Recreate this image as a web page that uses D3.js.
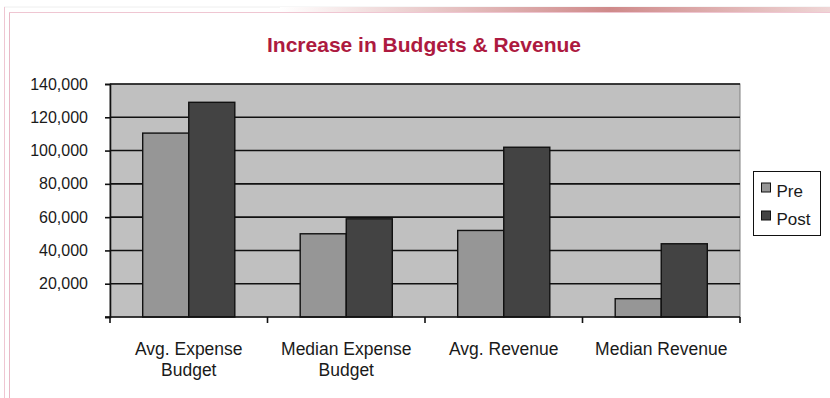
<!DOCTYPE html>
<html lang="en">
<head>
  <meta charset="UTF-8">
  <title>Increase in Budgets & Revenue</title>
  <style>
    body { margin: 0; background: #fff; }
    svg { display: block; font-family: "Liberation Sans", Arial, sans-serif; }
    .tick text { font-size: 16px; fill: #1a1a1a; }
  </style>
</head>
<body>
  <svg id="chart" width="830" height="398"></svg>
  <script src="https://cdnjs.cloudflare.com/ajax/libs/d3/7.8.5/d3.min.js"></script>
  <script>
    const categories = [['Avg. Expense', 'Budget'], ['Median Expense', 'Budget'], ['Avg. Revenue'], ['Median Revenue']]
    const seriesNames = ['Pre', 'Post']
    const preValues = [110500, 50000, 52000, 11000]
    const postValues = [129000, 59000, 102000, 44000]
    const yTicks = [0, 20000, 40000, 60000, 80000, 100000, 120000, 140000]
    const colors = ['#969696', '#434343']

    const svg = d3.select('#chart')

    // slide frame decoration
    const grad = svg.append('defs').append('linearGradient').attr('id', 'topbar')
    grad.append('stop').attr('offset', '0%').attr('stop-color', '#ffffff')
    grad.append('stop').attr('offset', '60%').attr('stop-color', '#cf8a8a')
    grad.append('stop').attr('offset', '100%').attr('stop-color', '#efd6d6')
    svg.append('line').attr('x1', 4).attr('x2', 830).attr('y1', 7).attr('y2', 7)
      .attr('stroke', '#eeeeee').attr('stroke-width', 1)
    svg.append('rect').attr('x', 280).attr('y', 7).attr('width', 550).attr('height', 5)
      .attr('fill', 'url(#topbar)')
    svg.append('line').attr('x1', 4.5).attr('x2', 4.5).attr('y1', 7).attr('y2', 398)
      .attr('stroke', '#efc6d2').attr('stroke-width', 1)
    svg.append('line').attr('x1', 9.5).attr('x2', 9.5).attr('y1', 12).attr('y2', 398)
      .attr('stroke', '#e8b8c6').attr('stroke-width', 1)
    svg.append('line').attr('x1', 9).attr('x2', 830).attr('y1', 12.5).attr('y2', 12.5)
      .attr('stroke', '#efc6d2').attr('stroke-width', 1)

    svg.append('text')
      .attr('x', 424).attr('y', 52)
      .attr('text-anchor', 'middle')
      .attr('font-size', 21).attr('font-weight', 'bold')
      .attr('fill', '#ad1a40')
      .text('Increase in Budgets & Revenue')

    const plotL = 110, plotR = 740, plotT = 84, plotB = 317

    const x = d3.scaleBand().domain(d3.range(categories.length)).range([plotL, plotR])
    const xs = d3.scaleBand().domain(seriesNames).range([0, x.bandwidth()]).paddingOuter(0.71)
    const y = d3.scaleLinear().domain([0, 140000]).range([plotB, plotT])

    svg.append('rect').attr('x', plotL).attr('y', plotT).attr('width', plotR - plotL).attr('height', plotB - plotT)
      .attr('fill', '#c0c0c0').attr('stroke', '#808080').attr('stroke-width', 1)

    svg.append('g').selectAll('line').data(yTicks.filter(d => d > 0)).join('line')
      .attr('x1', plotL).attr('x2', plotR)
      .attr('y1', d => y(d)).attr('y2', d => y(d))
      .attr('stroke', '#111').attr('stroke-width', 1.6)

    const data = categories.map((c, i) => ({ i, vals: [preValues[i], postValues[i]] }))
    svg.append('g').selectAll('g').data(data).join('g')
      .attr('transform', d => `translate(${x(d.i)},0)`)
      .selectAll('rect').data(d => d.vals.map((v, k) => ({ k, v }))).join('rect')
      .attr('x', d => xs(seriesNames[d.k]))
      .attr('width', xs.bandwidth())
      .attr('y', d => y(d.v))
      .attr('height', d => plotB - y(d.v))
      .attr('fill', d => colors[d.k])
      .attr('stroke', '#111').attr('stroke-width', 1.4)

    const yAxis = d3.axisLeft(y).tickValues(yTicks).tickSize(5).tickPadding(17)
      .tickFormat(d => d === 0 ? '' : d3.format(',')(d))
    const gy = svg.append('g').attr('transform', `translate(${plotL},0)`).call(yAxis)
    gy.select('.domain').attr('stroke', '#111').attr('stroke-width', 1.6)
    gy.selectAll('.tick line').attr('stroke', '#111').attr('stroke-width', 1.6)

    const edges = d3.range(categories.length + 1).map(i => plotL + i * x.step())
    svg.append('line').attr('x1', plotL - 5).attr('x2', plotR).attr('y1', plotB).attr('y2', plotB)
      .attr('stroke', '#111').attr('stroke-width', 1.6)
    svg.append('g').selectAll('line').data(edges).join('line')
      .attr('x1', d => d).attr('x2', d => d).attr('y1', plotB).attr('y2', plotB + 6)
      .attr('stroke', '#111').attr('stroke-width', 1.6)

    const lbl = svg.append('g').selectAll('text').data(categories).join('text')
      .attr('x', (d, i) => x(i) + x.bandwidth() / 2)
      .attr('y', 355)
      .attr('text-anchor', 'middle')
      .attr('font-size', 17.5).attr('fill', '#1a1a1a')
    lbl.selectAll('tspan').data(d => d).join('tspan')
      .attr('x', function () { return d3.select(this.parentNode).attr('x') })
      .attr('dy', (d, i) => i === 0 ? 0 : 21)
      .text(d => d)

    // legend
    const lg = svg.append('g')
    lg.append('rect').attr('x', 753.5).attr('y', 171.5).attr('width', 67).attr('height', 64)
      .attr('fill', '#fff').attr('stroke', '#111').attr('stroke-width', 1)
    const items = lg.selectAll('g').data(seriesNames).join('g')
      .attr('transform', (d, i) => `translate(761.5,${188 + i * 28})`)
    items.append('rect').attr('x', 0).attr('y', -5).attr('width', 9).attr('height', 9)
      .attr('fill', (d, i) => colors[i]).attr('stroke', '#111').attr('stroke-width', 1)
    items.append('text').attr('x', 15).attr('y', 9)
      .attr('font-size', 17).attr('fill', '#1a1a1a').text(d => d)
  </script>
</body>
</html>
